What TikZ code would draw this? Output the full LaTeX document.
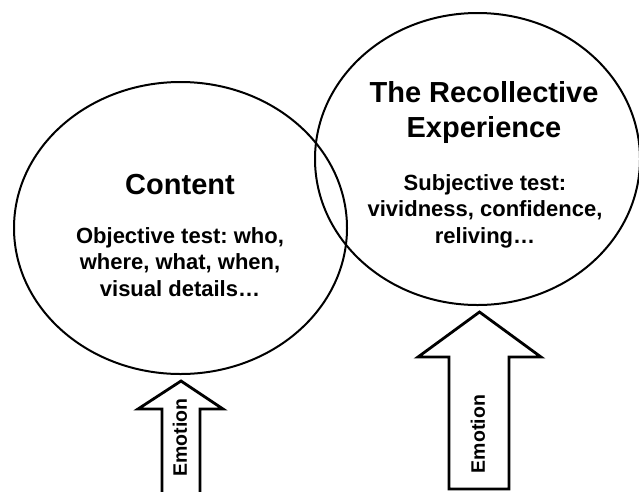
\documentclass[tikz,border=0pt]{standalone}
\usepackage{fontspec}
\setmainfont{Liberation Sans}
\usetikzlibrary{shapes.geometric}
\frenchspacing
\begin{document}
\begin{tikzpicture}[x=1pt,y=-1pt,
  bubble/.style={draw=black, line width=2pt, ellipse, inner sep=0pt},
  blockarrow/.style={draw=black, line width=2.8pt, line join=miter, fill=white},
  title/.style={font=\bfseries\fontsize{29}{35}\selectfont, align=center, inner sep=0pt},
  detail/.style={font=\bfseries\fontsize{22}{26.5}\selectfont, align=center, inner sep=0pt},
  arrowlabel/.style={font=\bfseries\fontsize{19.5}{23}\selectfont, rotate=90, inner sep=0pt}]
\useasboundingbox (0,0) rectangle (639,491);
\clip (0,0) rectangle (639,491);

% the two overlapping ellipses
\node[bubble, minimum width=333pt, minimum height=292pt] (content) at (180.5,228) {};
\node[bubble, minimum width=325pt, minimum height=292pt] (recollect) at (477.5,159) {};

% text of the left ellipse
\node[title, anchor=base] (contentTitle) at (180,194) {Content};
\node[detail, anchor=north] (contentText) at (180,227)
  {Objective test: who,\\where, what, when,\\visual details…};

% text of the right ellipse
\node[title, anchor=north] (recollectTitle) at (484,80.8)
  {The Recollective\\Experience};
\node[detail, anchor=north] (recollectText) at (485,174)
  {Subjective test:\\vividness, confidence,\\reliving…};

% emotion block arrows
\draw[blockarrow] (162,500) -- (162,409) -- (138,409) -- (181,381)
  -- (223,409) -- (200,409) -- (200,500);
\node[arrowlabel] (emoLeft) at (180,437.5) {Emotion};

\draw[blockarrow] (449,489) -- (449,357) -- (418,357) -- (479.5,312)
  -- (541,357) -- (509,357) -- (509,489) -- cycle;
\node[arrowlabel] (emoRight) at (478,434) {Emotion};
\end{tikzpicture}
\end{document}
